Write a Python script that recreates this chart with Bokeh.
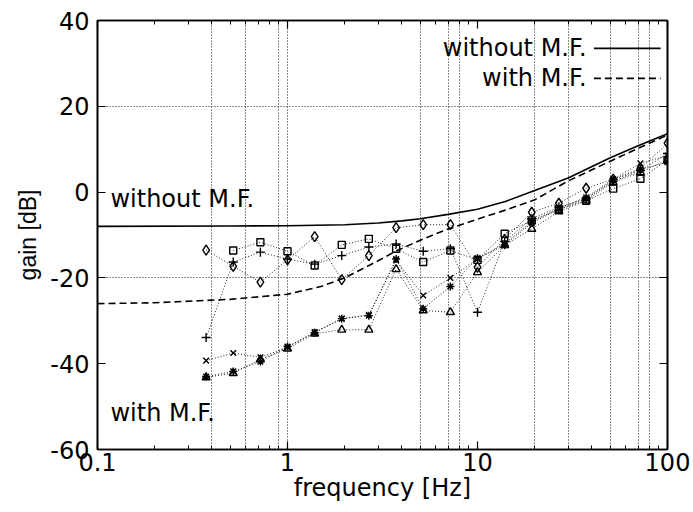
import math
from bokeh.plotting import figure
from bokeh.models import FixedTicker, LogAxis, LinearAxis, Label, Range1d
from bokeh.embed import file_html
from bokeh.resources import INLINE

# ---------------- data ----------------
freq = [0.373, 0.518, 0.720, 1.0, 1.39, 1.93, 2.68, 3.73, 5.18, 7.20,
        10.0, 13.9, 19.3, 26.8, 37.3, 51.8, 72.0, 100.0]

s_diamond = [-13.5, -17.3, -21.0, -15.8, -10.4, -20.4, -14.8, -8.3, -7.6, -7.6,
             -17.5, -11.0, -4.7, -2.6, 0.9, 3.0, 5.5, 11.4]
s_square = [float("nan"), -13.6, -11.7, -13.8, -17.1, -12.3, -10.9, -13.2, -16.3, -13.6,
            -15.8, -9.7, -6.6, -4.0, -2.0, 0.8, 3.1, 7.5]
s_plus = [-33.9, -16.3, -14.0, -15.6, -16.8, -14.8, -12.8, -12.1, -13.8, -13.2,
          -28.0, -11.5, -6.2, -3.5, -1.5, 2.5, 5.0, 9.0]
s_cross = [-39.3, -37.5, -38.5, -36.2, -32.6, -29.5, -28.6, -15.9, -24.1, -20.0,
           -15.6, -12.0, -6.9, -3.8, -1.2, 3.0, 6.7, 8.5]
s_triangle = [-43.2, -42.2, -39.0, -36.5, -33.0, -32.1, -32.1, -18.0, -27.6, -28.0,
              -18.7, -12.4, -8.6, -4.5, -2.0, 2.3, 4.6, 7.5]
s_star = [-43.0, -41.8, -39.5, -36.0, -32.8, -29.5, -28.8, -15.6, -27.2, -22.0,
          -15.4, -12.4, -7.2, -4.0, -1.6, 2.8, 5.3, 7.0]

without_f = [0.1, 0.5, 1.0, 2.0, 3.0, 4.0, 5.0, 7.0, 10.0, 14.0, 20.0, 30.0, 50.0, 70.0, 100.0]
without_gain = [-8.0, -7.9, -7.85, -7.6, -7.2, -6.7, -6.2, -5.2, -4.0, -2.2, 0.4, 3.3, 8.0, 10.8, 13.6]

with_f = [0.1, 0.2, 0.5, 1.0, 1.5, 2.0, 3.0, 3.7, 5.0, 7.0, 10.0, 14.0, 20.0, 30.0, 50.0, 70.0, 100.0]
with_gain = [-26.0, -25.8, -25.0, -23.8, -22.0, -20.0, -16.0, -13.8, -11.2, -8.6, -6.3,
             -4.2, -1.8, 2.6, 7.2, 10.2, 13.3]

x_major = [0.1, 1, 10, 100]
x_major_labels = ["0.1", "1", "10", "100"]
x_minor = [0.2, 0.3, 0.4, 0.5, 0.6, 0.7, 0.8, 0.9,
           2, 3, 4, 5, 6, 7, 8, 9,
           20, 30, 40, 50, 60, 70, 80, 90]
y_ticks = [-60, -40, -20, 0, 20, 40]
y_labels = ["-60", "-40", "-20", "0", "20", "40"]
grid_x = [0.4, 0.6, 0.9, 1, 5, 7, 8, 20, 30, 50, 70, 80]
grid_y = [-20, 20]

FONT = "DejaVu Sans"
FONT_V = "Liberation Sans"
FS = "24px"
FS_TXT = "24px"

p = figure(width=693, height=512, x_axis_type="log",
           x_range=Range1d(0.1, 100), y_range=Range1d(-60, 40),
           output_backend="svg", toolbar_location=None,
           min_border_left=97, min_border_right=26,
           min_border_top=20, min_border_bottom=63)
p.background_fill_color = "white"
p.border_fill_color = "white"
p.outline_line_color = "black"
p.outline_line_width = 1.6

def style_axis(ax, ticker, labels=None, show=True):
    ax.ticker = ticker
    ax.axis_line_color = "black"
    ax.axis_line_width = 1.6
    ax.major_tick_in = 8
    ax.major_tick_out = 0
    ax.major_tick_line_color = "black"
    ax.major_tick_line_width = 1.2
    ax.minor_tick_in = 4
    ax.minor_tick_out = 0
    ax.minor_tick_line_color = "black"
    ax.major_label_text_font = FONT
    ax.major_label_text_color = "black"
    if labels is not None:
        ax.major_label_overrides = labels
    if show:
        ax.major_label_text_font_size = FS
    else:
        ax.major_label_text_font_size = "1px"
        ax.major_label_text_alpha = 0
        ax.major_label_standoff = 0

xax = p.xaxis[0]
style_axis(xax, FixedTicker(ticks=x_major, minor_ticks=x_minor),
           {v: l for v, l in zip(x_major, x_major_labels)})
xax.major_label_standoff = 3
xax.axis_label = "frequency [Hz]"
xax.axis_label_text_font = FONT
xax.axis_label_text_font_size = FS
xax.axis_label_text_font_style = "normal"
xax.axis_label_text_color = "black"
xax.axis_label_standoff = 0

yax = p.yaxis[0]
style_axis(yax, FixedTicker(ticks=y_ticks), {v: l for v, l in zip(y_ticks, y_labels)})
yax.minor_tick_line_color = None
yax.major_label_standoff = 8
yax.axis_label = "gain [dB]"
yax.axis_label_text_font = FONT_V
yax.axis_label_text_font_size = "23px"
yax.axis_label_text_font_style = "normal"
yax.axis_label_text_color = "black"
yax.axis_label_standoff = 6

top = LogAxis()
style_axis(top, FixedTicker(ticks=x_major, minor_ticks=x_minor), show=False)
p.add_layout(top, "above")
right = LinearAxis()
style_axis(right, FixedTicker(ticks=y_ticks), show=False)
right.minor_tick_line_color = None
p.add_layout(right, "right")

p.xgrid.ticker = FixedTicker(ticks=grid_x)
p.ygrid.ticker = FixedTicker(ticks=grid_y)
for g in (p.xgrid, p.ygrid):
    g.grid_line_color = "black"
    g.grid_line_dash = "1 2"
    g.grid_line_width = 1
    g.grid_line_alpha = 0.9

# model curves
p.line(without_f, without_gain, line_color="black", line_width=1.6)
p.line(with_f, with_gain, line_color="black", line_width=1.6, line_dash="7 4")

# measured series
series = [
    (s_diamond, "diamond", 10),
    (s_square, "square", 7),
    (s_plus, "cross", 9),
    (s_cross, "x", 8),
    (s_triangle, "triangle", 8),
    (s_star, "asterisk", 8),
]
for vals, mk, sz in series:
    p.line(freq, vals, line_color="black", line_width=1, line_dash="1 2", line_alpha=0.85)
    p.scatter(freq, vals, marker=mk, size=sz, line_color="black",
              fill_color=None, line_width=1.4)

# in-plot labels
p.add_layout(Label(x=0.117, y=-1.5, text="without M.F.", text_font=FONT,
                   text_font_size=FS_TXT, text_color="black", text_baseline="alphabetic"))
p.add_layout(Label(x=0.117, y=-51.6, text="with M.F.", text_font=FONT,
                   text_font_size=FS_TXT, text_color="black", text_baseline="alphabetic"))

# key (text on the left, sample on the right)
key_text_x = 37.5
key_x0, key_x1 = 41.0, 92.0
key_rows = [(33.5, "without M.F.", None), (26.5, "with M.F.", "7 4")]
for ky, txt, dash in key_rows:
    p.add_layout(Label(x=key_text_x, y=ky, text=txt, text_font=FONT,
                       text_font_size=FS_TXT, text_color="black",
                       text_align="right", text_baseline="middle"))
    if dash is None:
        p.line([key_x0, key_x1], [ky, ky], line_color="black", line_width=1.6)
    else:
        p.line([key_x0, key_x1], [ky, ky], line_color="black", line_width=1.6, line_dash=dash)

open("out.html", "w").write(file_html(p, INLINE))
